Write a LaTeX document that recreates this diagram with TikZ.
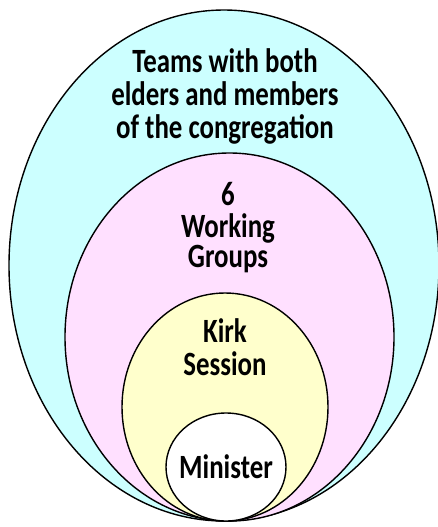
\documentclass[tikz,border=0pt]{standalone}
\usepackage{xcolor}
\usepackage{fontspec}
\setmainfont{Carlito}[FakeStretch=0.79]
\usetikzlibrary{shapes.geometric}
\definecolor{teamcyan}{RGB}{204,255,255}
\definecolor{grouppink}{RGB}{255,224,255}
\definecolor{kirkyellow}{RGB}{255,255,204}

\begin{document}
\begin{tikzpicture}[x=1pt,y=-1pt,
		ring/.style={ellipse,draw=black,line width=1.4pt,inner sep=0pt},
		lbl/.style={anchor=base,inner sep=1pt,font=\fontsize{34}{33}\selectfont\bfseries}]
		\useasboundingbox (0,0) rectangle (438,527);
		\node[ring,fill=teamcyan,minimum width=430pt,minimum height=511pt](teams) at(224,265.5){};
		\node[ring,fill=grouppink,minimum width=329pt,minimum height=368pt](groups) at(229.5,337){};
		\node[ring,fill=kirkyellow,minimum width=206pt,minimum height=228pt](kirk) at(225,407){};
		\node[ring,fill=white,minimum width=120pt,minimum height=108pt](minister) at(226,467){};
		\node[lbl](teamsA) at(225,72){Teams with both};
		\node[lbl](teamsB) at(225,105){elders and members};
		\node[lbl](teamsC) at(225,138){of the congregation};
		\node[lbl](groupsA) at(228,205){6};
		\node[lbl](groupsB) at(228,237){Working};
		\node[lbl](groupsC) at(228,267){Groups};
		\node[lbl](kirkA) at(225,342){Kirk};
		\node[lbl](kirkB) at(225,375){Session};
		\node[lbl](ministerA) at(226,478){Minister};
		\end{tikzpicture}
\end{document}
